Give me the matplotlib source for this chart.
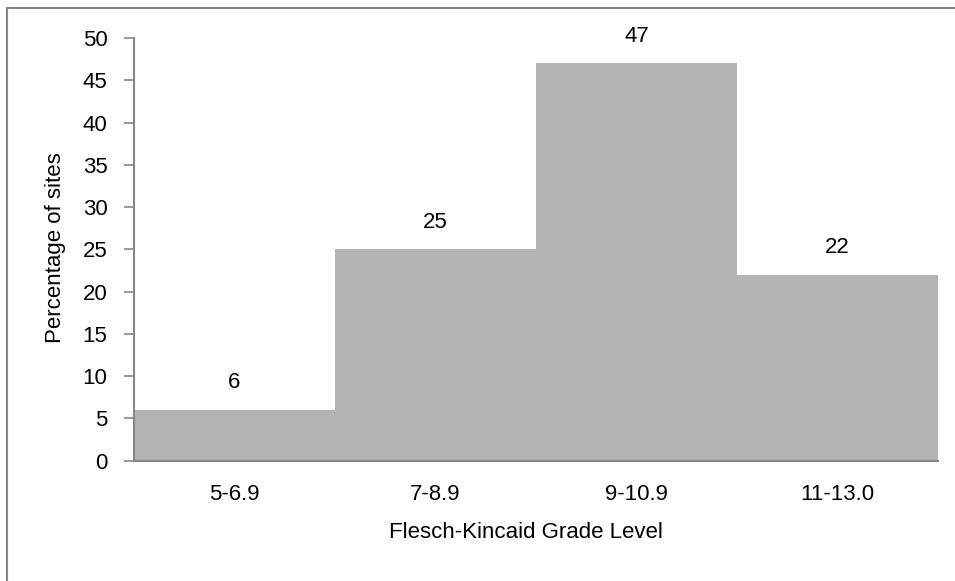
import matplotlib
matplotlib.use("Agg")
import matplotlib.pyplot as plt
from matplotlib.lines import Line2D

# Share of sites in each Flesch-Kincaid grade band
grade_bands = ["5-6.9", "7-8.9", "9-10.9", "11-13.0"]
pct_sites = [6, 25, 47, 22]
y_ticks = [0, 5, 10, 15, 20, 25, 30, 35, 40, 45, 50]

plt.rcParams["font.family"] = ["Liberation Sans", "DejaVu Sans"]
FS = 16

W, H, DPI = 955, 581, 100
fig = plt.figure(figsize=(W / DPI, H / DPI), dpi=DPI)
fig.patch.set_facecolor("white")

ax_left, ax_right = 134, 938
ax_top, ax_bottom = 38, 460.7
ax = fig.add_axes([ax_left / W, (H - ax_bottom) / H,
                   (ax_right - ax_left) / W, (ax_bottom - ax_top) / H])

x = list(range(len(grade_bands)))
bars = ax.bar(x, pct_sites, width=1.0, color="#b3b3b3", edgecolor="none")

for xi, v in zip(x, pct_sites):
    ax.annotate(f"{v}", (xi, v), xytext=(0, 12), textcoords="offset points",
                ha="center", va="bottom", fontsize=FS, color="black")

ax.set_xlim(-0.5, len(grade_bands) - 0.5)
ax.set_ylim(0, 50)
ax.set_yticks(y_ticks)
ax.set_xticks(x)
ax.set_xticklabels(grade_bands)

axis_gray = "#878787"
for side in ("top", "right"):
    ax.spines[side].set_visible(False)
for side in ("left", "bottom"):
    ax.spines[side].set_color(axis_gray)
    ax.spines[side].set_linewidth(1.5)
ax.spines["bottom"].set_zorder(3)

ax.tick_params(axis="y", direction="out", length=7, width=1.2, color=axis_gray,
               labelsize=FS, pad=12)
ax.tick_params(axis="x", length=0, labelsize=FS, pad=17)

ax.set_xlabel("Flesch-Kincaid Grade Level", fontsize=FS)
ax.xaxis.set_label_coords((526 - ax_left) / (ax_right - ax_left),
                          (ax_bottom - 533) / (ax_bottom - ax_top))
ax.xaxis.label.set_va("center")

ax.set_ylabel("Percentage of sites", fontsize=FS)
ax.yaxis.label.set_va("center")
ax.yaxis.set_label_coords((56 - ax_left) / (ax_right - ax_left),
                          (ax_bottom - 248) / (ax_bottom - ax_top))

# Chart-area frame along the left and top edges
frame_kw = dict(color=axis_gray, linewidth=1.5, transform=fig.transFigure)
fig.add_artist(Line2D([7 / W, 7 / W], [0, (H - 8) / H], **frame_kw))
fig.add_artist(Line2D([7 / W, 1], [(H - 8) / H, (H - 8) / H], **frame_kw))

fig.savefig("out.png", dpi=DPI, facecolor="white")
